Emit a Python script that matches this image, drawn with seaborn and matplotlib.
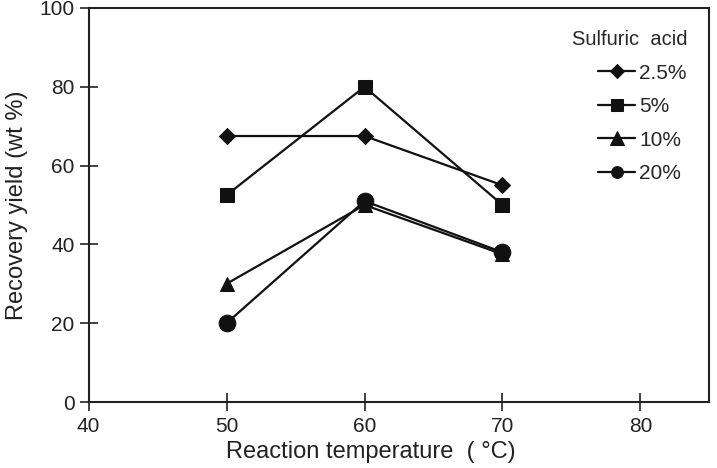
import matplotlib
matplotlib.use("Agg")
import matplotlib.pyplot as plt
import seaborn as sns
import pandas as pd

temperatures = [50, 60, 70]
acid_labels = ["2.5%", "5%", "10%", "20%"]
yield_2_5 = [67.5, 67.5, 55.0]
yield_5 = [52.5, 80.0, 50.0]
yield_10 = [30.0, 50.0, 37.5]
yield_20 = [20.0, 51.0, 38.0]
series = [yield_2_5, yield_5, yield_10, yield_20]
markers = ["D", "s", "^", "o"]
msizes = [8.5, 10.5, 10.5, 12]
leg_msizes = [7, 9, 9.5, 8.5]

rows = []
for lab, vals in zip(acid_labels, series):
    for t, v in zip(temperatures, vals):
        rows.append({"T": t, "Y": v, "acid": lab})
df = pd.DataFrame(rows)

sns.set_style("ticks")
plt.rcParams['font.family'] = ['Liberation Sans', 'DejaVu Sans']

fig = plt.figure(figsize=(7.17, 4.68), dpi=100)
ax = fig.add_axes([0.1235, 0.141, 0.866, 0.842])

for lab, mk, ms in zip(acid_labels, markers, msizes):
    sub = df[df["acid"] == lab]
    sns.lineplot(data=sub, x="T", y="Y", ax=ax, color="#111111", marker=mk,
                 markersize=ms, markeredgecolor="#111111", linewidth=1.6,
                 label=lab, estimator=None, sort=False)

ax.set_xlim(40, 85)
ax.set_ylim(0, 100)
ax.set_xticks([40, 50, 60, 70, 80])
ax.set_yticks([0, 20, 40, 60, 80, 100])
ax.tick_params(direction="inout", length=13, width=1.2, labelsize=15,
               colors="#222222")
ax.tick_params(axis="x", pad=4.5)
for s in ax.spines.values():
    s.set_linewidth(1.5)
    s.set_color("#222222")
ax.set_xlabel("Reaction temperature  ( °C)", fontsize=17, color="#222222")
ax.xaxis.set_label_coords(0.454, -0.1)
ax.set_ylabel("Recovery yield (wt %)", fontsize=17, color="#222222", labelpad=8)

leg = ax.legend(title="Sulfuric  acid", frameon=False, loc="upper right",
                bbox_to_anchor=(687 / 717, 1 - 30 / 468),
                bbox_transform=fig.transFigure, borderaxespad=0, borderpad=0,
                fontsize=15, title_fontsize=14.5,
                handlelength=1.78, handletextpad=0.2, labelspacing=0.7,
                alignment="right")
for h, ms in zip(leg.legend_handles, leg_msizes):
    h.set_markersize(ms)

fig.savefig("out.png", dpi=100)
